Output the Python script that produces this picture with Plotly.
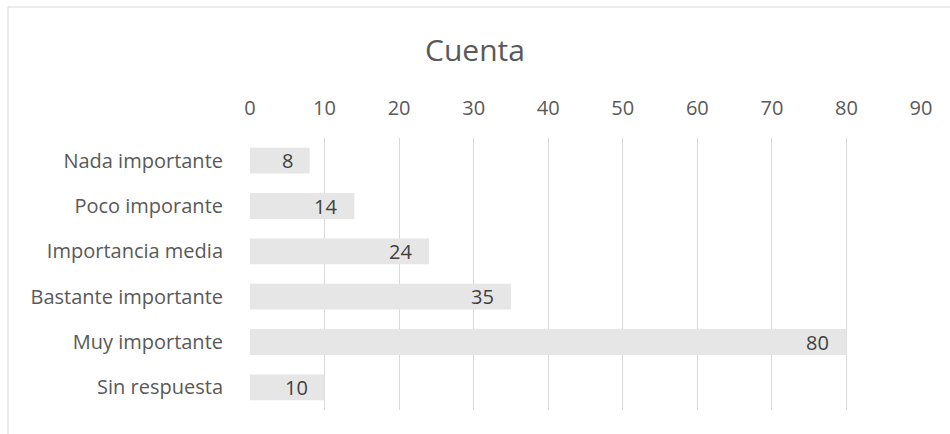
import plotly.graph_objects as go

categories = ["Nada importante", "Poco imporante", "Importancia media",
              "Bastante importante", "Muy importante", "Sin respuesta"]
values = [8, 14, 24, 35, 80, 10]
tick_vals = [0, 10, 20, 30, 40, 50, 60, 70, 80, 90]
title_text = "Cuenta"

FONT = "Open Sans"
TXT = "#595959"

fig = go.Figure()
fig.add_trace(go.Bar(
    x=values, y=categories, orientation="h",
    marker=dict(color="#e7e6e6", line=dict(width=0)),
    width=0.57, hoverinfo="x+y",
))

for c, v in zip(categories, values):
    fig.add_annotation(x=v, y=c, xref="x", yref="y", text=str(v),
                       showarrow=False, xanchor="right", xshift=-15,
                       font=dict(family=FONT, size=20, color="#404040"))

W, H = 950, 434
L, R, T, B = 250, 29, 138, 24
pw, ph = W - L - R, H - T - B
px = lambda x: (x - L) / pw
py = lambda y: (H - B - y) / ph

fig.add_shape(type="line", xref="paper", yref="paper",
              x0=px(8), x1=px(950), y0=py(7), y1=py(7),
              line=dict(color="#d9d9d9", width=1))
fig.add_shape(type="line", xref="paper", yref="paper",
              x0=px(8), x1=px(8), y0=py(7), y1=py(434),
              line=dict(color="#d9d9d9", width=1))

fig.update_layout(
    width=W, height=H,
    margin=dict(l=L, r=R, t=T, b=B),
    paper_bgcolor="white", plot_bgcolor="white",
    showlegend=False,
    title=dict(text=title_text, x=0.5, xref="container", xanchor="center",
               y=1 - 50 / H, yanchor="middle", yref="container",
               font=dict(family=FONT, size=30, color=TXT)),
    xaxis=dict(side="top", range=[0, 90], tickvals=tick_vals,
               showgrid=True, gridcolor="#d9d9d9", gridwidth=1,
               zeroline=False, showline=False, ticks="",
               ticklabelstandoff=18,
               tickfont=dict(family=FONT, size=20, color=TXT), fixedrange=True),
    yaxis=dict(autorange="reversed", showgrid=False, zeroline=False,
               showline=False, ticks="", ticklabelstandoff=26,
               tickfont=dict(family=FONT, size=20, color=TXT)),
)

fig.write_html("out.html", config={"displayModeBar": False},
               post_script="document.body.style.margin='0';")
